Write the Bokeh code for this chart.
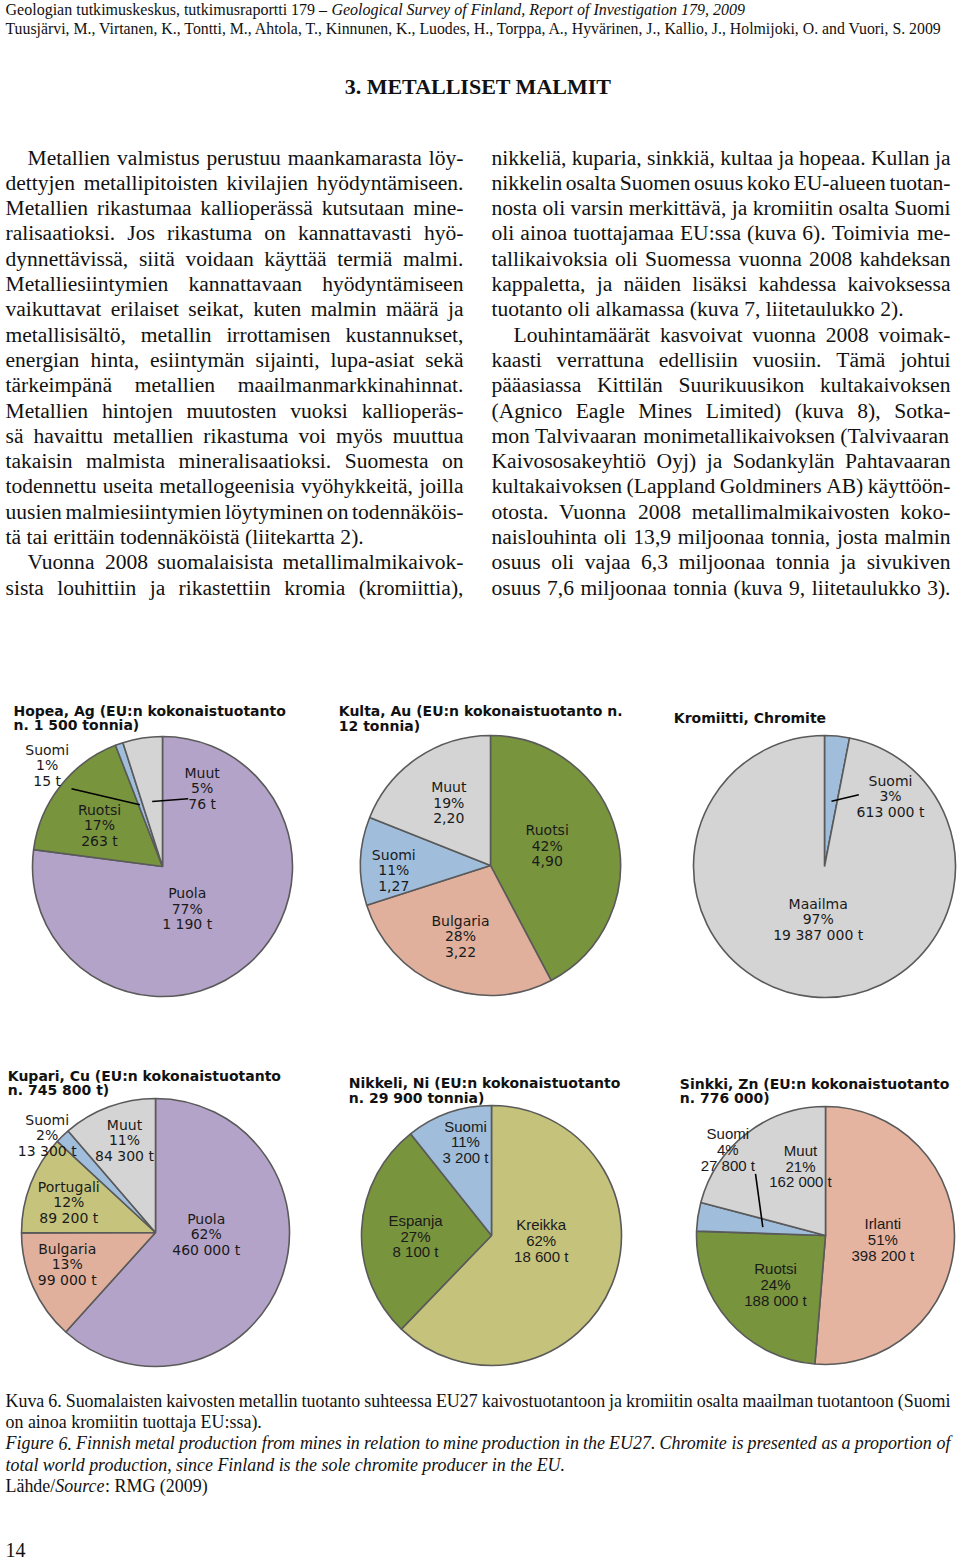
import numpy as np
from collections import defaultdict
from bokeh.plotting import figure
from bokeh.models import Range1d, ColumnDataSource
from bokeh.core.properties import value
from bokeh.embed import file_html
from bokeh.resources import INLINE

# ---------------- data ----------------
hopea_names = ["Puola", "Ruotsi", "Suomi", "Muut"]
hopea_tonnes = [1190, 263, 15, 76]
kulta_names = ["Ruotsi", "Bulgaria", "Suomi", "Muut"]
kulta_tonnes = [4.90, 3.22, 1.27, 2.20]
kromiitti_names = ["Suomi", "Maailma"]
kromiitti_tonnes = [613000, 19387000]
kupari_names = ["Puola", "Bulgaria", "Portugali", "Suomi", "Muut"]
kupari_tonnes = [460000, 99000, 89200, 13300, 84300]
nikkeli_names = ["Kreikka", "Espanja", "Suomi"]
nikkeli_tonnes = [18600, 8100, 3200]
sinkki_names = ["Irlanti", "Ruotsi", "Suomi", "Muut"]
sinkki_tonnes = [398200, 188000, 27800, 162000]

hopea_title = ["Hopea, Ag (EU:n kokonaistuotanto", "n. 1 500 tonnia)"]
kulta_title = ["Kulta, Au (EU:n kokonaistuotanto  n.", "12 tonnia)"]
kromiitti_title = ["Kromiitti, Chromite"]
kupari_title = ["Kupari, Cu (EU:n kokonaistuotanto", "n. 745 800 t)"]
nikkeli_title = ["Nikkeli, Ni (EU:n kokonaistuotanto", "n. 29 900 tonnia)"]
sinkki_title = ["Sinkki, Zn (EU:n kokonaistuotanto", "n. 776 000)"]

header_1 = [("Geologian tutkimuskeskus, tutkimusraportti 179 – ", "normal"),
            ("Geological Survey of Finland, Report of Investigation 179, 2009", "italic")]
header_2 = "Tuusjärvi, M., Virtanen, K., Tontti, M., Ahtola, T., Kinnunen, K., Luodes, H., Torppa, A., Hyvärinen, J., Kallio, J., Holmijoki, O. and Vuori, S. 2009"
heading = "3. METALLISET MALMIT"

# (text, first line of paragraph, justified)
left_col = [
    ("Metallien valmistus perustuu maankamarasta löy-", True, True),
    ("dettyjen metallipitoisten kivilajien hyödyntämiseen.", False, True),
    ("Metallien rikastumaa kallioperässä kutsutaan mine-", False, True),
    ("ralisaatioksi. Jos rikastuma on kannattavasti hyö-", False, True),
    ("dynnettävissä, siitä voidaan käyttää termiä malmi.", False, True),
    ("Metalliesiintymien kannattavaan hyödyntämiseen", False, True),
    ("vaikuttavat erilaiset seikat, kuten malmin määrä ja", False, True),
    ("metallisisältö, metallin irrottamisen kustannukset,", False, True),
    ("energian hinta, esiintymän sijainti, lupa-asiat sekä", False, True),
    ("tärkeimpänä metallien maailmanmarkkinahinnat.", False, True),
    ("Metallien hintojen muutosten vuoksi kallioperäs-", False, True),
    ("sä havaittu metallien rikastuma voi myös muuttua", False, True),
    ("takaisin malmista mineralisaatioksi. Suomesta on", False, True),
    ("todennettu useita metallogeenisia vyöhykkeitä, joilla", False, True),
    ("uusien malmiesiintymien löytyminen on todennäköis-", False, True),
    ("tä tai erittäin todennäköistä (liitekartta 2).", False, False),
    ("Vuonna 2008 suomalaisista metallimalmikaivok-", True, True),
    ("sista louhittiin ja rikastettiin kromia (kromiittia),", False, True),
]
right_col = [
    ("nikkeliä, kuparia, sinkkiä, kultaa ja hopeaa. Kullan ja", False, True),
    ("nikkelin osalta Suomen osuus koko EU-alueen tuotan-", False, True),
    ("nosta oli varsin merkittävä, ja kromiitin osalta Suomi", False, True),
    ("oli ainoa tuottajamaa EU:ssa (kuva 6). Toimivia me-", False, True),
    ("tallikaivoksia oli Suomessa vuonna 2008 kahdeksan", False, True),
    ("kappaletta, ja näiden lisäksi kahdessa kaivoksessa", False, True),
    ("tuotanto oli alkamassa (kuva 7, liitetaulukko 2).", False, False),
    ("Louhintamäärät kasvoivat vuonna 2008 voimak-", True, True),
    ("kaasti verrattuna edellisiin vuosiin. Tämä johtui", False, True),
    ("pääasiassa Kittilän Suurikuusikon kultakaivoksen", False, True),
    ("(Agnico Eagle Mines Limited) (kuva 8), Sotka-", False, True),
    ("mon Talvivaaran monimetallikaivoksen (Talvivaaran", False, True),
    ("Kaivososakeyhtiö Oyj) ja Sodankylän Pahtavaaran", False, True),
    ("kultakaivoksen (Lappland Goldminers AB) käyttöön-", False, True),
    ("otosta. Vuonna 2008 metallimalmikaivosten koko-", False, True),
    ("naislouhinta oli 13,9 miljoonaa tonnia, josta malmin", False, True),
    ("osuus oli vajaa 6,3 miljoonaa tonnia ja sivukiven", False, True),
    ("osuus 7,6 miljoonaa tonnia (kuva 9, liitetaulukko 3).", False, True),
]
caption = [
    ([("Kuva 6. Suomalaisten kaivosten metallin tuotanto suhteessa EU27 kaivostuotantoon ja kromiitin osalta maailman tuotantoon (Suomi", "normal")], True),
    ([("on ainoa kromiitin tuottaja EU:ssa).", "normal")], False),
    ([("Figure 6. Finnish metal production from mines in relation to mine production in the EU27. Chromite is presented as a proportion of", "italic")], True),
    ([("total world production, since Finland is the sole chromite producer in the EU.", "italic")], False),
    ([("Lähde/", "normal"), ("Source", "italic"), (": RMG (2009)", "normal")], False),
]
page_number = "14"

# ---------------- styles ----------------
COLORS = {"Puola": "#B4A3C8", "Ruotsi": "#78943D", "Espanja": "#78943D",
          "Suomi": "#A0BEDB", "Muut": "#D4D4D4", "Maailma": "#D4D4D4",
          "Bulgaria": "#E0B09D", "Irlanti": "#E4B4A1",
          "Portugali": "#C6C47C", "Kreikka": "#C5C27B"}

W, H = 960, 1561


def X(px):
    return px


def Y(py):
    return H - py


ROMAN = {' ': 250, '%': 833, '(': 333, ')': 333, ',': 250, '-': 333, '.': 250, '/': 278,
         ':': 278, ';': 278, '–': 500,
         'A': 722, 'B': 667, 'C': 667, 'D': 722, 'E': 611, 'F': 556, 'G': 722, 'H': 722,
         'I': 333, 'J': 389, 'K': 722, 'L': 611, 'M': 889, 'N': 722, 'O': 722, 'P': 556,
         'Q': 722, 'R': 667, 'S': 556, 'T': 611, 'U': 722, 'V': 722, 'W': 944, 'X': 722,
         'Y': 722, 'Z': 611, 'Ä': 722, 'Ö': 722,
         'a': 444, 'b': 500, 'c': 444, 'd': 500, 'e': 444, 'f': 333, 'g': 500, 'h': 500,
         'i': 278, 'j': 278, 'k': 500, 'l': 278, 'm': 778, 'n': 500, 'o': 500, 'p': 500,
         'q': 500, 'r': 333, 's': 389, 't': 278, 'u': 500, 'v': 500, 'w': 722, 'x': 500,
         'y': 500, 'z': 444, 'ä': 444, 'ö': 500, 'å': 444}
ITAL = dict(ROMAN)
ITAL.update({'a': 500, 'f': 278, 'k': 444, 'm': 722, 'r': 389, 'v': 444, 'w': 667, 'x': 444,
             'y': 444, 'z': 389, 'A': 611, 'B': 611, 'F': 611, 'K': 667, 'L': 556, 'M': 833,
             'N': 667, 'P': 611, 'R': 611, 'S': 500, 'T': 556, 'V': 611, 'W': 833, 'X': 611,
             'Y': 556, 'Z': 556, ':': 333})


def em(s, style="normal"):
    tbl = ITAL if style == "italic" else ROMAN
    return sum(tbl.get(c, 500) for c in s) / 1000.0


TXT = defaultdict(lambda: dict(x=[], y=[], text=[]))


def txt(px, py, s, font, size, style="normal", align="left", color="#111111"):
    d = TXT[(font, round(size, 2), style, align, color)]
    d["x"].append(X(px))
    d["y"].append(Y(py))
    d["text"].append(s)


SERIF = "Liberation Serif"


def put_line(s, x0, x1, yc, fs, style="normal", just=True):
    words = s.split()
    w = [em(t, style) * fs for t in words]
    n = len(words)
    gap = (x1 - x0 - sum(w)) / (n - 1) if (just and n > 1) else 0.25 * fs
    x = x0
    for t, wi in zip(words, w):
        txt(x, yc, t, SERIF, fs, style)
        x += wi + gap


def fit_size(lines, width, cap, min_gap):
    best = cap
    for s, style in lines:
        words = s.split()
        need = sum(em(t, style) for t in words) + min_gap * (len(words) - 1)
        best = min(best, width / need)
    return best


p = figure(width=W, height=H, x_range=Range1d(0, W), y_range=Range1d(0, H),
           output_backend="svg", toolbar_location=None, min_border=0,
           x_axis_type=None, y_axis_type=None)
p.grid.visible = False
p.outline_line_color = None
p.background_fill_color = "white"
p.border_fill_color = "white"

# ---------------- header ----------------
tot = sum(em(s, st) for s, st in header_1)
fs_h1 = 740 / tot
x = 5
for s, st in header_1:
    txt(x, 9, s, SERIF, fs_h1, st)
    x += em(s, st) * fs_h1
fs_h2 = 945 / em(header_2)
txt(5, 28, header_2, SERIF, fs_h2)
txt(477.5, 86, heading, SERIF, 22, "bold", align="center")

# ---------------- body text ----------------
LX0, LX1, RX0, RX1 = 5, 463, 491, 950
just_lines = [(s, "normal") for s, ind, j in left_col + right_col if j]
fs_body = fit_size(just_lines, 458, 22, 0.16)
for i, (s, ind, j) in enumerate(left_col):
    put_line(s, LX0 + (22 if ind else 0), LX1, 157 + 25.3 * i, fs_body, "normal", j)
for i, (s, ind, j) in enumerate(right_col):
    put_line(s, RX0 + (22 if ind else 0), RX1, 157 + 25.3 * i, fs_body, "normal", j)

# ---------------- pies ----------------
OUT = "#5A5A5A"


def pie(cx, cy, r, names, tonnes, label_pos, title, title_xy, fmt, label_font, label_size):
    v = np.array(tonnes, dtype=float)
    frac = v / v.sum()
    cum = np.concatenate([[0.0], np.cumsum(frac)])
    start = np.pi / 2 - cum[1:] * 2 * np.pi
    end = np.pi / 2 - cum[:-1] * 2 * np.pi
    src = ColumnDataSource(dict(x=[X(cx)] * len(v), y=[Y(cy)] * len(v), start=start, end=end,
                                color=[COLORS[n] for n in names]))
    p.wedge(x="x", y="y", radius=r, radius_units="screen", start_angle="start", end_angle="end",
            fill_color="color", line_color=OUT, line_width=1.6, source=src)
    for n, val, fr, (lx, ly) in zip(names, v, frac, label_pos):
        lines = [n, f"{int(round(fr * 100))}%", fmt(val)]
        for k, s in enumerate(lines):
            txt(lx, ly + 15.6 * k, s, label_font, label_size, align="center", color="#1a1a1a")
    tx, ty = title_xy
    for k, s in enumerate(title):
        txt(tx, ty + 14.6 * k, s, "DejaVu Sans", 14, "bold", color="#111111")


def fmt_t(v):
    return f"{int(round(v)):,}".replace(",", " ") + " t"


def fmt_dec(v):
    return f"{v:.2f}".replace(".", ",")


pie(162, 866, 130, hopea_names, hopea_tonnes,
    [(186.7, 892.5), (99, 809), (46.7, 749), (201.7, 772)],
    hopea_title, (13, 710), fmt_t, "DejaVu Sans", 14)
pie(490, 865, 130, kulta_names, kulta_tonnes,
    [(546.7, 829.5), (460, 920), (393.3, 854), (448.3, 786.7)],
    kulta_title, (338.3, 710.7), fmt_dec, "DejaVu Sans", 14)
pie(824, 866, 131, kromiitti_names, kromiitti_tonnes,
    [(890, 780), (817.7, 903)],
    kromiitti_title, (673.3, 717.3), fmt_t, "DejaVu Sans", 14)
pie(155, 1232, 134, kupari_names, kupari_tonnes,
    [(205.7, 1218.3), (66.7, 1248.3), (68.3, 1186), (46.7, 1119.3), (124, 1124)],
    kupari_title, (7.3, 1075), fmt_t, "DejaVu Sans", 14)
pie(491, 1235, 130, nikkeli_names, nikkeli_tonnes,
    [(540.7, 1224.3), (415, 1220), (465, 1125.7)],
    nikkeli_title, (348.3, 1082.7), fmt_t, "Liberation Sans", 15)
pie(825, 1235, 129, sinkki_names, sinkki_tonnes,
    [(882.3, 1223.3), (775, 1268.3), (727.3, 1133.3), (800, 1150)],
    sinkki_title, (679.3, 1083.3), fmt_t, "Liberation Sans", 15)

# leader lines
leaders = [((71, 788.3), (139.3, 804.3)), ((151.7, 801), (187.7, 798.3)),
           ((831, 800.7), (858.3, 794.3)), ((755, 1173.3), (762.3, 1226.7))]
p.segment(x0=[X(a[0]) for a, b in leaders], y0=[Y(a[1]) for a, b in leaders],
          x1=[X(b[0]) for a, b in leaders], y1=[Y(b[1]) for a, b in leaders],
          line_color="black", line_width=1.6)

# ---------------- caption ----------------
cap_just = [(seg[0][0], seg[0][1]) for seg, j in caption if j]
fs_cap = fit_size(cap_just, 945, 19, 0.22)
for i, (segs, j) in enumerate(caption):
    yc = 1400 + 21.4 * i
    if j:
        put_line(segs[0][0], 5, 950, yc, fs_cap, segs[0][1], True)
    else:
        x = 5
        for s, st in segs:
            txt(x, yc, s, SERIF, fs_cap, st)
            x += em(s, st) * fs_cap

txt(5, 1549, page_number, SERIF, 20)

for (font, size, style, align, color), d in TXT.items():
    p.text(x="x", y="y", text="text", source=ColumnDataSource(d), text_font=value(font),
           text_font_size=value(f"{size}px"), text_font_style=style, text_align=align,
           text_baseline="middle", text_color=color)

open("out.html", "w").write(file_html(p, INLINE))
